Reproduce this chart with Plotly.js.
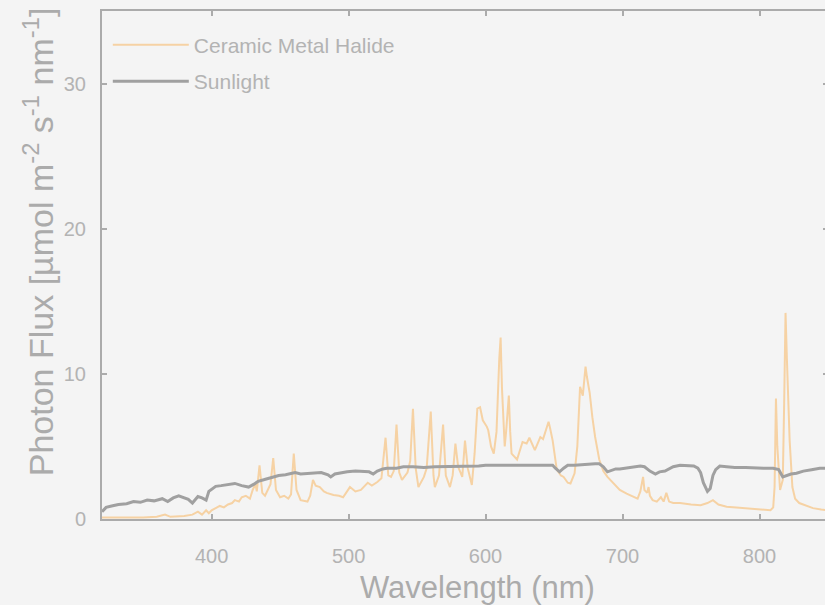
<!DOCTYPE html>
<html>
<head>
<meta charset="utf-8">
<script src="https://cdn.plot.ly/plotly-3.0.1.min.js"></script>
<style>
  html, body { margin: 0; padding: 0; background: #f4f4f4; overflow: hidden; }
  #chart { width: 830px; height: 605px; }
</style>
</head>
<body>
<div id="chart"></div>
<script>
// Spectral photon flux of a ceramic metal halide lamp compared with sunlight
const seriesNames = ["Ceramic Metal Halide", "Sunlight"];

const cmhWavelength = [320,330,340,350,360,366,370,380,386,390,393,396,398,400,403,406,409,412,415,417,420,422,425,428,430,432,433,435,437,439,441,443,445,447,450,453,456,458,460,462,465,470,472,474,476,479,482,484,489,493,496,499,501,505,509,512,514,517,521,524,527,529,531,533,535,537,539,543,545,547,549,551,555,557,560,562,563,566,569,571,574,576,578,580,583,585,587,590,592,594,596,598,601,602,604,606,608,610,611,612,614,615,617,618,619,623,627,630,632,636,640,642,644,646,647,649,652,655,657,660,662,665,667,669,671,673,674,676,678,680,683,686,689,693,698,703,708,711,713,715,716,718,719,720,722,725,728,730,732,734,737,742,750,757,762,766,770,776,783,791,798,805,808,810,811,812,813,815,817,818,819,820,822,824,826,829,834,839,845,850];
const cmhFlux = [0.1,0.1,0.05,0.1,0.15,0.3,0.15,0.2,0.3,0.5,0.3,0.6,0.4,0.6,0.75,0.9,0.8,1.0,1.1,1.3,1.2,1.5,1.6,1.4,2.0,2.4,1.9,3.7,1.8,1.6,2.0,2.4,4.2,2.0,1.5,1.6,1.4,1.7,4.5,2.0,1.3,1.2,1.6,2.7,2.3,2.2,1.9,1.8,1.65,1.6,1.5,1.9,2.2,1.9,2.0,2.3,2.5,2.3,2.55,2.8,5.6,3.0,2.9,3.3,6.5,3.2,2.7,3.2,4.0,7.6,3.5,2.2,2.9,3.5,7.4,3.0,2.2,3.0,6.5,3.0,2.2,3.0,5.2,3.6,2.9,5.4,3.5,2.35,4.5,7.6,7.7,6.8,6.35,6.1,5.0,4.5,6.0,11.0,12.5,9.0,5.0,6.0,8.5,6.0,4.5,4.1,5.3,5.2,5.6,4.75,5.65,5.5,6.1,6.7,6.3,5.4,3.4,3.0,2.9,2.5,2.45,3.15,5.0,9.1,8.5,10.5,9.8,8.7,7.0,5.65,4.1,3.3,2.9,2.5,2.0,1.75,1.5,1.4,1.9,2.9,2.0,1.8,2.2,1.6,1.3,1.2,1.5,1.2,1.8,1.2,1.1,1.1,1.0,0.95,1.1,1.3,1.0,0.85,0.8,0.75,0.7,0.65,0.6,0.8,2.2,8.3,5.0,2.0,2.7,8.0,14.2,11.0,5.4,2.2,1.4,1.1,0.9,0.75,0.65,0.6];

const sunWavelength = [320,323,327,332,338,343,348,353,358,364,368,372,376,379,383,386,390,393,396,398,401,403,407,412,417,422,427,431,434,438,444,449,454,458,461,465,470,475,480,485,487,490,495,499,505,510,515,518,521,525,528,535,540,547,555,563,572,580,589,595,600,605,611,615,620,625,630,635,640,645,649,651,654,657,660,665,670,675,680,683,686,689,692,695,698,703,708,713,716,720,724,727,731,737,742,747,752,755,757,759,762,764,766,768,771,776,782,790,797,803,810,814,817,820,823,827,832,838,844,850];
const sunFlux = [0.5,0.8,0.9,1.0,1.05,1.2,1.15,1.3,1.25,1.4,1.2,1.45,1.6,1.5,1.35,1.1,1.55,1.45,1.3,1.9,2.1,2.25,2.3,2.4,2.45,2.3,2.2,2.4,2.6,2.7,2.85,3.0,3.05,3.15,3.2,3.1,3.15,3.2,3.2,3.05,2.9,3.1,3.2,3.25,3.3,3.3,3.25,3.1,3.3,3.45,3.5,3.5,3.6,3.6,3.55,3.6,3.6,3.65,3.6,3.65,3.7,3.7,3.7,3.65,3.7,3.65,3.7,3.7,3.65,3.7,3.7,3.5,3.25,3.5,3.7,3.7,3.75,3.75,3.8,3.8,3.6,3.25,3.35,3.45,3.45,3.5,3.6,3.65,3.6,3.3,3.1,3.25,3.3,3.6,3.7,3.7,3.65,3.5,3.2,2.5,1.9,2.1,3.0,3.4,3.65,3.6,3.55,3.55,3.5,3.5,3.5,3.4,2.9,3.0,3.1,3.15,3.3,3.4,3.5,3.5];

const xTickVals = [400, 500, 600, 700, 800];
const yTickVals = [0, 10, 20, 30];
const xTitle = "Wavelength (nm)";
const yTitle = "Photon Flux [µmol m<sup>-2</sup> s<sup>-1</sup> nm<sup>-1</sup>]";

const textGrey = "#b3b3b3";
const titleGrey = "#ababab";
const axisGrey = "#ababab";
const font = "Liberation Sans, Arial, Helvetica, sans-serif";

const traces = [
  {
    x: cmhWavelength, y: cmhFlux, name: seriesNames[0], type: "scatter", mode: "lines",
    legendgroup: "a",
    line: { color: "#f6d2a4", width: 2 }
  },
  {
    x: sunWavelength, y: sunFlux, name: seriesNames[1], type: "scatter", mode: "lines",
    legendgroup: "b",
    line: { color: "#a0a0a0", width: 3 }
  }
];

const axisCommon = {
  showline: true, linecolor: axisGrey, linewidth: 2, mirror: "ticks",
  ticks: "inside", ticklen: 5, tickwidth: 2, tickcolor: axisGrey,
  showgrid: false, zeroline: false,
  tickfont: { family: font, size: 20, color: textGrey }
};

const layout = {
  width: 830, height: 605,
  margin: { l: 102, r: 2, t: 11, b: 86 },
  paper_bgcolor: "#f4f4f4", plot_bgcolor: "#f4f4f4",
  font: { family: font, color: textGrey },
  showlegend: true,
  legend: {
    x: 0.008, y: 0.973, xanchor: "left", yanchor: "top",
    bgcolor: "rgba(0,0,0,0)", borderwidth: 0,
    font: { family: font, size: 21, color: textGrey },
    itemwidth: 76, traceorder: "grouped", tracegroupgap: 6
  },
  xaxis: Object.assign({}, axisCommon, {
    range: [320, 850], tickvals: xTickVals, ticktext: xTickVals.map(String),
    ticklabelstandoff: 18
  }),
  yaxis: Object.assign({}, axisCommon, {
    range: [0, 35], tickvals: yTickVals, ticktext: yTickVals.map(String),
    ticklabelstandoff: 10
  }),
  // axis titles placed as annotations so their centres can sit where wanted
  annotations: [
    {
      text: xTitle, xref: "paper", yref: "paper", x: 0.517, y: -0.134,
      xanchor: "center", yanchor: "middle", showarrow: false,
      font: { family: font, size: 31, color: titleGrey }
    },
    {
      text: yTitle, xref: "paper", yref: "paper", x: -0.088, y: 0.545,
      xanchor: "center", yanchor: "middle", showarrow: false, textangle: -90,
      font: { family: font, size: 34, color: titleGrey }
    }
  ]
};

Plotly.newPlot("chart", traces, layout, { displayModeBar: false, staticPlot: true });
</script>
</body>
</html>
